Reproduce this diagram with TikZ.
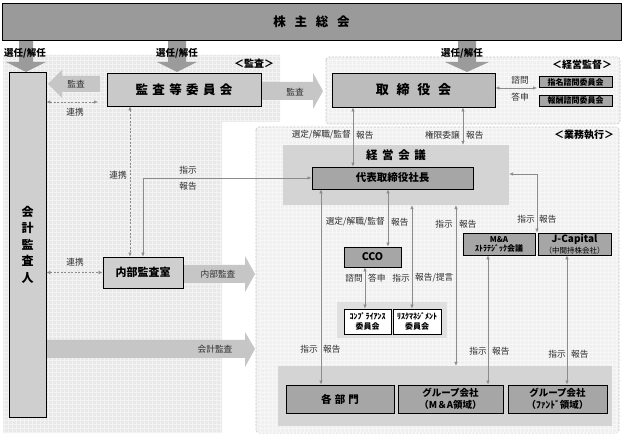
\documentclass[tikz,border=0pt]{standalone}
\usepackage{fontspec}
\setmainfont{Noto Sans CJK JP}
\usetikzlibrary{arrows.meta}
\definecolor{cTop}{HTML}{9A9A9A}
\definecolor{cAud}{HTML}{CFCFCF}
\definecolor{cKan}{HTML}{C9C9C9}
\definecolor{cBod}{HTML}{BCBCBC}
\definecolor{cMid}{HTML}{A6A6A6}
\definecolor{cReg}{HTML}{D4D4D4}
\definecolor{cCom}{HTML}{E0E0E0}
\definecolor{cArrD}{HTML}{9B9B9B}
\definecolor{cArrL}{HTML}{C6C6C6}
\definecolor{cLine}{HTML}{8C8C8C}
\definecolor{cBgL}{HTML}{E8E8E8}
\definecolor{cBgR}{HTML}{F0F0F0}
\definecolor{cDash}{HTML}{C8C8C8}
\definecolor{cTxt}{HTML}{2E2E2E}
\begin{document}
\begin{tikzpicture}[x=1pt,y=-1pt,
  >={Latex[length=4pt,width=3.6pt]},
  box/.style={draw=black, line width=0.9pt, inner sep=0pt, align=center},
  region/.style={inner sep=0pt, draw=none},
  conn/.style={<->, draw=cLine, line width=0.6pt},
  dconn/.style={conn, dash pattern=on 2pt off 1.5pt},
  lbl/.style={font=\fontsize{8.7}{10}\selectfont, text=cTxt, inner sep=0pt},
  sel/.style={font=\bfseries\fontsize{9.5}{11}\selectfont, inner sep=0pt},
  hdr/.style={font=\bfseries\fontsize{10}{12}\selectfont, inner sep=0pt},
  barrD/.style={fill=cArrD},
  barrL/.style={fill=cArrL},
  regr/.style={fill=cBgR, draw=cDash, dash pattern=on 2pt off 1.5pt, line width=0.6pt, rounded corners=3pt}
]
\useasboundingbox (0,0) rectangle (624,438);
\fill[white] (0,0) rectangle (624,438);

% left audit region
\begin{scope}
\clip (3,55) -- (280,55) -- (280,122) -- (222,122) -- (222,433) -- (3,433) -- cycle;
\fill[cBgL] (0,0) rectangle (624,438);
\draw[white, line width=0.5pt, opacity=0.5, step=4pt] (0,438) grid (624,0);
\end{scope}

% right regions
\draw[regr] (326,57) rectangle (620,124);
\draw[regr] (256,127) rectangle (619,433);
\begin{scope}
\clip (327,58) rectangle (619,123);
\draw[white, line width=0.5pt, opacity=0.5, step=4pt] (0,438) grid (624,0);
\end{scope}
\begin{scope}
\clip (257,128) rectangle (618,432);
\draw[white, line width=0.5pt, opacity=0.5, step=4pt] (0,438) grid (624,0);
\end{scope}

% block arrows from the general meeting
\fill[barrD] (19,40) -- (33,40) -- (33,62) -- (46,62) -- (26,72) -- (6,62) -- (19,62) -- cycle;
\fill[barrD] (168,40) -- (186,40) -- (186,62) -- (197,62) -- (177,72) -- (157,62) -- (168,62) -- cycle;
\fill[barrD] (458,40) -- (476,40) -- (476,62) -- (489,62) -- (467,72) -- (445,62) -- (458,62) -- cycle;

% horizontal block arrows
\fill[barrL] (100,76) -- (62,76) -- (62,70) -- (48,84) -- (62,98) -- (62,92) -- (100,92) -- cycle;
\fill[barrL] (262,82) -- (313,82) -- (313,73) -- (323,91) -- (313,109) -- (313,100) -- (262,100) -- cycle;
\fill[barrL] (183,265) -- (245,265) -- (245,256) -- (255,274) -- (245,292) -- (245,283) -- (183,283) -- cycle;
\fill[barrL] (47,340) -- (245,340) -- (245,332) -- (255,349) -- (245,367) -- (245,358) -- (47,358) -- cycle;

% region nodes
\node[region, fill=cReg, minimum width=226, minimum height=60] (keiei) at (396,175) {};
\node[region, fill=cCom, minimum width=110, minimum height=36] (commreg) at (392,320) {};
\node[region, fill=cReg, minimum width=334, minimum height=60] (botreg) at (445,396) {};

% main boxes
\node[box, fill=cTop, minimum width=619, minimum height=37, font=\bfseries\fontsize{12.5}{14}\selectfont] (kabu) at (311.5,21.5) {株\hspace{0.7em}主\hspace{0.7em}総\hspace{0.7em}会};
\node[box, fill=cAud, minimum width=37, minimum height=345, font=\bfseries\fontsize{12}{16.5}\selectfont] (kaikei) at (27.5,244.5) {会\\計\\監\\査\\人};
\node[box, fill=cKan, minimum width=154, minimum height=33, font=\bfseries\fontsize{12.5}{14}\selectfont] (kansa) at (184,89.5) {監\hspace{0.35em}査\hspace{0.35em}等\hspace{0.35em}委\hspace{0.35em}員\hspace{0.35em}会};
\node[box, fill=cBod, minimum width=163, minimum height=34, font=\bfseries\fontsize{13}{15}\selectfont] (tori) at (413.5,90) {取\hspace{0.6em}締\hspace{0.6em}役\hspace{0.6em}会};
\node[box, fill=cMid, minimum width=73, minimum height=11, font=\bfseries\fontsize{8}{9}\selectfont] (shimei) at (575.5,82) {指名諮問委員会};
\node[box, fill=cMid, minimum width=73, minimum height=11, font=\bfseries\fontsize{8}{9}\selectfont] (houshu) at (575.5,100.5) {報酬諮問委員会};
\node[font=\bfseries\fontsize{11.5}{13}\selectfont, inner sep=0pt] (keieit) at (396,155) {経\hspace{0.4em}営\hspace{0.4em}会\hspace{0.4em}議};
\node[box, fill=cMid, minimum width=161, minimum height=22, font=\bfseries\fontsize{10.5}{12}\selectfont] (ceo) at (392.5,178) {代表取締役社長};
\node[box, fill=cMid, minimum width=57, minimum height=20, font=\bfseries\fontsize{10.5}{12}\selectfont] (cco) at (372.5,257) {CCO};
\node[box, fill=white, minimum width=47, minimum height=25, font=\bfseries\fontsize{8}{10}\selectfont] (compl) at (367.5,321.5) {ｺﾝﾌﾟﾗｲｱﾝｽ\\委員会};
\node[box, fill=white, minimum width=48, minimum height=25, font=\bfseries\fontsize{8}{10}\selectfont] (risk) at (417,321.5) {ﾘｽｸﾏﾈｼﾞﾒﾝﾄ\\委員会};
\node[box, fill=cMid, minimum width=72, minimum height=22, font=\bfseries\fontsize{8}{9}\selectfont] (ma) at (499,244) {M\&A\\ｽﾄﾗﾃｼﾞｯｸ会議};
\node[box, fill=cMid, minimum width=73, minimum height=22] (jcap) at (574.5,244) {{\bfseries\fontsize{10}{11}\selectfont J-Capital}\\[-1pt]{\fontsize{7.5}{8.5}\selectfont （中間持株会社）}};
\node[box, fill=cAud, minimum width=80, minimum height=31, font=\bfseries\fontsize{11}{13}\selectfont] (naibu) at (143,272.5) {内部監査室};
\node[box, fill=cMid, minimum width=108, minimum height=28, font=\bfseries\fontsize{10.5}{12}\selectfont] (kakubu) at (340,399) {各\hspace{0.3em}部\hspace{0.3em}門};
\node[box, fill=cMid, minimum width=105, minimum height=28, font=\bfseries\fontsize{9.5}{11.5}\selectfont] (grpma) at (450.5,399) {グループ会社\\（M＆A領域）};
\node[box, fill=cMid, minimum width=99, minimum height=28, font=\bfseries\fontsize{9.5}{11.5}\selectfont] (grpfund) at (557.5,399) {グループ会社\\（ﾌｧﾝﾄﾞ領域）};

% region headers and arrow texts
\node[hdr] (tkansa) at (254,64) {＜監査＞};
\node[hdr] (tkeiei) at (582,65) {＜経営監督＞};
\node[hdr] (tgyomu) at (584,135) {＜業務執行＞};
\node[sel] (s1) at (25,53) {選任/解任};
\node[sel] (s2) at (177,53) {選任/解任};
\node[sel] (s3) at (462,53) {選任/解任};
\node[lbl] (a1) at (76,84) {監査};
\node[lbl] (a2) at (295,92) {監査};
\node[lbl] (a3) at (218,274) {内部監査};
\node[lbl] (a4) at (215,349) {会計監査};

% coordinates for connector columns
\coordinate (xb) at (130,0);
\coordinate (xa) at (353,0);
\coordinate (xc) at (463,0);
\coordinate (xd) at (388,0);
\coordinate (xe) at (365,0);
\coordinate (xf) at (412,0);
\coordinate (xg) at (456,0);
\coordinate (xh) at (488,0);
\coordinate (xi) at (567,0);
\coordinate (xj) at (321,0);
\coordinate (cr1) at (98,102);
\coordinate (cr2) at (537,88);
\coordinate (cr3) at (537,174);

% connectors
\draw[dconn] (kansa.south -| xb) -- (naibu.north -| xb);
\draw[dconn] (kaikei.east |- cr1) -- (cr1);
\draw[dconn] (kaikei.east |- naibu.west) -- (naibu.west);
\draw[conn] (naibu.north) |- (ceo.west);
\draw[conn] (tori.south -| xa) -- (ceo.north -| xa);
\draw[conn] (tori.south -| xc) -- (keiei.north -| xc);
\draw[conn] (tori.east |- cr2) -- (cr2);
\draw[conn] (ceo.south -| xd) -- (cco.north -| xd);
\draw[conn] (cco.south -| xe) -- (compl.north -| xe);
\draw[conn] (keiei.south -| xf) -- (risk.north -| xf);
\draw[conn] (keiei.south -| xg) -- (botreg.north -| xg);
\draw[conn] (keiei.east |- cr3) -- (cr3) -- (cr3 |- ma.north);
\draw[conn] (ma.south -| xh) -- (grpma.north -| xh);
\draw[conn] (jcap.south -| xi) -- (grpfund.north -| xi);
\draw[conn] (ceo.south -| xj) -- (kakubu.north -| xj);

% connector labels
\node[lbl] (l1) at (75,112) {連携};
\node[lbl] (l2) at (75,262) {連携};
\node[lbl] (l3) at (118,175) {連携};
\node[lbl] (l4) at (188,170) {指示};
\node[lbl] (l5) at (188,186) {報告};
\node[lbl, anchor=east] (l6) at (351,135) {選定/解職/監督};
\node[lbl, anchor=west] (l7) at (356,135) {報告};
\node[lbl, anchor=east] (l8) at (460,135) {権限委譲};
\node[lbl, anchor=west] (l9) at (466,135) {報告};
\node[lbl] (l10) at (520,80) {諮問};
\node[lbl] (l11) at (520,97) {答申};
\node[lbl, anchor=east] (l12) at (385,222) {選定/解職/監督};
\node[lbl, anchor=west] (l13) at (391,222) {報告};
\node[lbl, anchor=east] (l14) at (363,278) {諮問};
\node[lbl, anchor=west] (l15) at (368,278) {答申};
\node[lbl, anchor=east] (l16) at (410,278) {指示};
\node[lbl, anchor=west] (l17) at (415,278) {報告/提言};
\node[lbl, anchor=east] (l18) at (453,224) {指示};
\node[lbl, anchor=west] (l19) at (459,224) {報告};
\node[lbl, anchor=east] (l20) at (535,219) {指示};
\node[lbl, anchor=west] (l21) at (539,219) {報告};
\node[lbl, anchor=east] (l22) at (487,351) {指示};
\node[lbl, anchor=west] (l23) at (492,351) {報告};
\node[lbl, anchor=east] (l24) at (566,354) {指示};
\node[lbl, anchor=west] (l25) at (571,354) {報告};
\node[lbl, anchor=east] (l26) at (318,349) {指示};
\node[lbl, anchor=west] (l27) at (323,349) {報告};
\end{tikzpicture}
\end{document}
